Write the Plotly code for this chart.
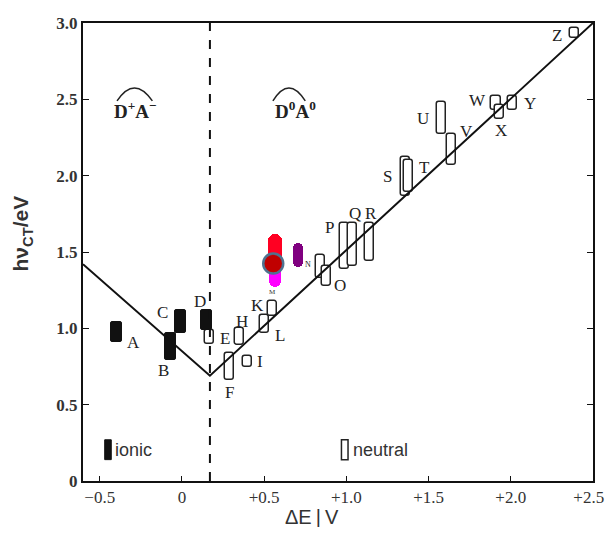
import plotly.graph_objects as go

# ---- data ----
ionic_labels = ["A", "B", "C", "D"]
ionic_x = [-0.40, -0.07, -0.01, 0.15]
ionic_low = [0.91, 0.79, 0.97, 0.99]
ionic_high = [1.04, 0.97, 1.12, 1.12]

neutral_labels = ["E", "F", "H", "I", "L", "K", "N", "O", "P", "Q", "R",
                  "S", "T", "U", "V", "W", "X", "Y", "Z"]
neutral_x = [0.17, 0.29, 0.35, 0.40, 0.50, 0.55, 0.84, 0.88, 0.99, 1.04, 1.14,
             1.36, 1.375, 1.58, 1.64, 1.91, 1.93, 2.01, 2.39]
neutral_low = [0.90, 0.66, 0.89, 0.75, 0.97, 1.08, 1.33, 1.28, 1.39, 1.41, 1.44,
               1.87, 1.89, 2.27, 2.07, 2.43, 2.37, 2.43, 2.90]
neutral_high = [0.99, 0.84, 1.00, 0.82, 1.09, 1.18, 1.48, 1.41, 1.69, 1.69, 1.69,
                2.12, 2.10, 2.48, 2.27, 2.52, 2.46, 2.52, 2.97]

# V-shaped correlation line and ionic/neutral boundary
vline_x = [-0.602, 0.17, 2.5]
vline_y = [1.42, 0.69, 3.0]
boundary_x = 0.17

# new coloured measurements
red_x, red_low, red_high = 0.566, 1.43, 1.62
mag_x, mag_low, mag_high = 0.566, 1.27, 1.47
pur_x, pur_low, pur_high = 0.706, 1.40, 1.56
dot_x, dot_y = 0.555, 1.425

x_ticks = [-0.5, 0, 0.5, 1.0, 1.5, 2.0, 2.5]
x_ticklabels = ["\u22120.5", "0", "+0.5", "+1.0", "+1.5", "+2.0", "+2.5\u00a0\u00a0"]
y_ticks = [0, 0.5, 1.0, 1.5, 2.0, 2.5, 3.0]
y_ticklabels = ["0", "0.5", "1.0", "1.5", "2.0", "2.5", "3.0"]

# label offsets (pixels) relative to box centre
label_off = {
    "A": (17, -10), "B": (-7, -24), "C": (-18, 9), "D": (-7, 18),
    "E": (15, -2), "F": (0, -26), "H": (2, 15), "I": (12, 0),
    "L": (16, -12), "K": (-15, 3), "N": (-12, 2), "O": (13, -10),
    "P": (-15, 18), "Q": (2, 31), "R": (2, 29), "S": (-18, 0),
    "T": (16, 9), "U": (-19, 0), "V": (15, 18), "W": (-19, 3),
    "X": (2, -18), "Y": (18, 0), "Z": (-18, -3),
}

fig = go.Figure()

fig.add_trace(go.Bar(
    x=neutral_x, y=[h - l for h, l in zip(neutral_high, neutral_low)], base=neutral_low,
    width=0.055, marker=dict(color="white", line=dict(color="#222", width=1.5), cornerradius=3),
    showlegend=False, hoverinfo="skip"))
fig.add_trace(go.Bar(
    x=ionic_x, y=[h - l for h, l in zip(ionic_high, ionic_low)], base=ionic_low,
    width=0.065, marker=dict(color="#111", line=dict(color="#111", width=1), cornerradius=2),
    showlegend=False, hoverinfo="skip"))
fig.add_trace(go.Bar(
    x=[mag_x], y=[mag_high - mag_low], base=[mag_low], width=0.07,
    marker=dict(color="#ff00ff", line=dict(width=0), cornerradius="50%"),
    showlegend=False, hoverinfo="skip"))
fig.add_trace(go.Bar(
    x=[red_x], y=[red_high - red_low], base=[red_low], width=0.085,
    marker=dict(color="#ff0022", line=dict(width=0), cornerradius="50%"),
    showlegend=False, hoverinfo="skip"))
fig.add_trace(go.Bar(
    x=[pur_x], y=[pur_high - pur_low], base=[pur_low], width=0.06,
    marker=dict(color="#800080", line=dict(width=0), cornerradius="50%"),
    showlegend=False, hoverinfo="skip"))

fig.add_trace(go.Scatter(x=vline_x, y=vline_y, mode="lines",
                         line=dict(color="#111", width=2), showlegend=False, hoverinfo="skip"))
fig.add_trace(go.Scatter(x=[boundary_x, boundary_x], y=[0, 3.0], mode="lines",
                         line=dict(color="#111", width=2, dash="dash"), showlegend=False, hoverinfo="skip"))
fig.add_trace(go.Scatter(x=[dot_x], y=[dot_y], mode="markers",
                         marker=dict(size=20, color="#c00000", line=dict(color="#4f7290", width=2.5)),
                         showlegend=False, hoverinfo="skip"))

ann = []
lab_font = dict(family="Liberation Serif", size=17, color="#222")
for lab, x, lo, hi in zip(ionic_labels + neutral_labels, ionic_x + neutral_x,
                          ionic_low + neutral_low, ionic_high + neutral_high):
    dx, dy = label_off[lab]
    f = dict(lab_font)
    if lab in ("N",):
        f["size"] = 8
    ann.append(dict(x=x, y=(lo + hi) / 2, text=lab, showarrow=False, xshift=dx, yshift=dy, font=f))
# tiny mark above K
ann.append(dict(x=neutral_x[5], y=neutral_high[5], text="M", showarrow=False, yshift=9,
                font=dict(family="Liberation Serif", size=7, color="#333")))

# region labels
ann.append(dict(x=-0.28, y=2.43, text="D<sup>+</sup>A<sup>\u2212</sup>", showarrow=False,
                font=dict(family="Liberation Serif", size=19, color="#222", weight="bold")))
ann.append(dict(x=0.69, y=2.43, text="D<sup>0</sup>A<sup>0</sup>", showarrow=False,
                font=dict(family="Liberation Serif", size=19, color="#222", weight="bold")))

# legend keys (text)
ann.append(dict(x=-0.42, y=0.2, text="ionic", showarrow=False, xanchor="left",
                font=dict(family="Liberation Sans", size=18, color="#333")))
ann.append(dict(x=1.03, y=0.2, text="neutral", showarrow=False, xanchor="left",
                font=dict(family="Liberation Sans", size=18, color="#333")))

# axis titles
ann.append(dict(xref="paper", yref="paper", x=-0.12, y=0.54, xanchor="center", yanchor="middle",
                text="<b>h\u03bd<sub>CT</sub>/eV</b>", textangle=-90, showarrow=False,
                font=dict(family="Liberation Sans", size=21, color="#333")))
ann.append(dict(xref="paper", yref="paper", x=0.449, y=-0.079, xanchor="center", yanchor="middle",
                text="\u0394E\u2009|\u2009V", showarrow=False,
                font=dict(family="Liberation Sans", size=20, color="#333")))

shapes = [
    # legend key boxes
    dict(type="rect", x0=-0.47, x1=-0.43, y0=0.14, y1=0.27, fillcolor="#111", line=dict(color="#111", width=1)),
    dict(type="rect", x0=0.97, x1=1.01, y0=0.14, y1=0.27, fillcolor="white", line=dict(color="#222", width=1.5)),
    # arcs over D...A
    dict(type="path", path="M -0.395,2.49 Q -0.29,2.66 -0.18,2.49", line=dict(color="#222", width=1.5)),
    dict(type="path", path="M 0.553,2.49 Q 0.65,2.66 0.75,2.49", line=dict(color="#222", width=1.5)),
]

fig.update_layout(
    width=605, height=519,
    margin=dict(l=75, r=20, t=15, b=46),
    paper_bgcolor="white", plot_bgcolor="white",
    barmode="overlay", bargap=0,
    annotations=ann, shapes=shapes,
    xaxis=dict(range=[-0.602, 2.5], tickvals=x_ticks, ticktext=x_ticklabels, automargin=False,
               showgrid=False, zeroline=False, showline=True, linecolor="#111", linewidth=2,
               mirror=True, ticks="inside", ticklen=5, tickcolor="#111",
               tickfont=dict(family="Liberation Serif", size=17, color="#333")),
    yaxis=dict(range=[0, 3.0], tickvals=y_ticks, ticktext=y_ticklabels, automargin=False,
               showgrid=False, zeroline=False, showline=True, linecolor="#111", linewidth=2,
               mirror="ticks", ticks="inside", ticklen=6, tickcolor="#111",
               tickfont=dict(family="Liberation Serif", size=17, color="#333", weight="bold")),
)

fig.write_html("out.html")
